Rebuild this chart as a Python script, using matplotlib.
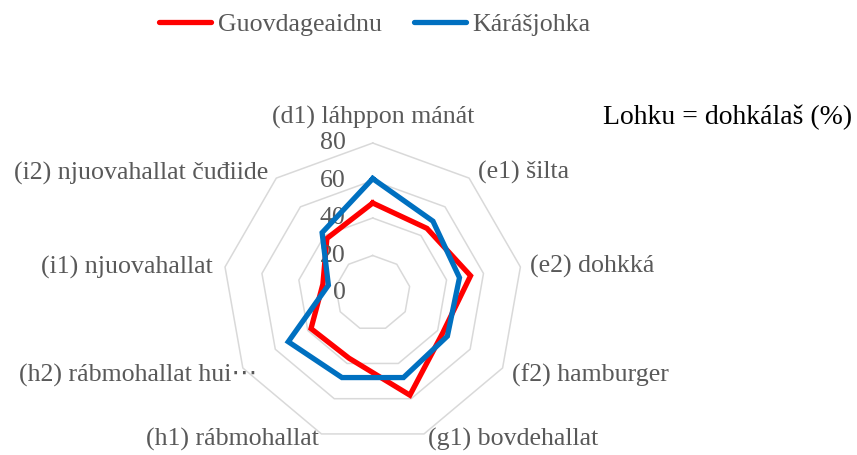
import numpy as np
import matplotlib
matplotlib.use("Agg")
import matplotlib.pyplot as plt
from matplotlib.lines import Line2D

categories = ["(d1) láhppon mánát", "(e1) šilta", "(e2) dohkká", "(f2) hamburger",
              "(g1) bovdehallat", "(h1) rábmohallat", "(h2) rábmohallat hui⋯",
              "(i1) njuovahallat", "(i2) njuovahallat čuđiide"]
guovdageaidnu = [48, 45, 53, 43, 58, 37, 38, 27, 38]
karasjohka = [61, 50, 47, 46, 48, 48, 52, 24, 42]
ring_values = [20, 40, 60, 80]
tick_labels = ["0", "20", "40", "60", "80"]
series_names = ["Guovdageaidnu", "Kárášjohka"]

RED = "#FF0000"
BLUE = "#0070C0"
GRID = "#D9D9D9"
TXT = "#595959"
FONT = ["Liberation Serif", "DejaVu Sans"]
FS = 18.6

fig = plt.figure(figsize=(8.57, 4.55), dpi=100)
ax = fig.add_axes([0.2599, 0.0264, 0.35, 0.6593], projection="polar")
ax.set_theta_offset(np.pi / 2)
ax.set_theta_direction(-1)
ax.set_ylim(0, 80)
ax.grid(False)
ax.spines["polar"].set_visible(False)
ax.set_xticks([])
ax.set_yticks([])
ax.patch.set_visible(False)

n = len(categories)
theta = np.arange(n) * 2 * np.pi / n
theta_c = np.append(theta, theta[0])

for rv in ring_values:
    ax.plot(theta_c, [rv] * (n + 1), color=GRID, lw=1.1, zorder=1, clip_on=False)

ax.plot(theta_c, guovdageaidnu + guovdageaidnu[:1], color=RED, lw=3.8, zorder=3,
        solid_joinstyle="miter", clip_on=False)
ax.plot(theta_c, karasjohka + karasjohka[:1], color=BLUE, lw=3.8, zorder=4,
        solid_joinstyle="miter", clip_on=False)

# radial value labels
for v, lab in zip([0] + ring_values, tick_labels):
    ax.annotate(lab, xy=(0, v), xytext=(-27, 0), textcoords="offset pixels",
                ha="right", va="center", fontsize=FS, color=TXT, family=FONT,
                annotation_clip=False)

# category labels
offsets = [(0, 26, "center"), (9, 6, "left"), (10, 1, "left"), (9, -7, "left"),
           (4, -6, "left"), (-3, -6, "right"), (14, -7, "right"), (-12, 0, "right"),
           (-8, 5, "right")]
for t, lab, (dx, dy, ha) in zip(theta, categories, offsets):
    ax.annotate(lab, xy=(t, 80), xytext=(dx, dy), textcoords="offset pixels",
                ha=ha, va="center", fontsize=FS, color=TXT, family=FONT,
                annotation_clip=False)

fig.text(603 / 857, 1 - 117 / 455, "Lohku = dohkálaš (%)", ha="left", va="center",
         fontsize=20, color="black", family=FONT)

handles = [Line2D([], [], color=RED, lw=3.8, solid_capstyle="round"),
           Line2D([], [], color=BLUE, lw=3.8, solid_capstyle="round")]
leg = fig.legend(handles, series_names, loc="center", bbox_to_anchor=(375 / 857, 1 - 24 / 455),
                 ncol=2, frameon=False, handlelength=2.0, handletextpad=0.27,
                 columnspacing=1.25, prop={"family": FONT, "size": FS})
for t in leg.get_texts():
    t.set_color(TXT)

fig.savefig("out.png", dpi=100)
